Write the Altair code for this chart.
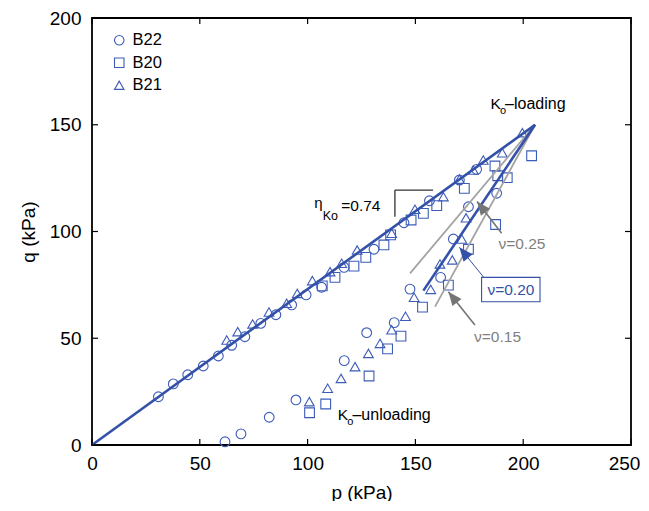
import math
import altair as alt
import pandas as pd

FONT = "Liberation Sans"
BLUE_MK = "#3d5cb8"
BLUE_LN = "#3451a8"
GRAY_LN = "#a3a3a3"
GRAY_AR = "#757575"
GRAY_TX = "#7f7f7f"

W, H = 539, 427

# ---- measured points (p, q in kPa) ----
b22_p = [30.8, 37.7, 44.4, 51.6, 58.6, 64.8, 70.9, 78.3, 85.3, 92.6, 99.3, 106.5, 116.9, 130.8,
         144.7, 156.5, 170.4, 178.4,
         61.7, 69.1, 82.2, 94.6, 117.0, 127.4, 140.2, 147.5, 161.7, 167.6, 174.6, 187.7]
b22_q = [22.6, 28.6, 32.9, 37.0, 41.7, 46.7, 50.7, 57.0, 61.0, 65.6, 70.3, 73.9, 83.2, 91.7,
         104.1, 114.4, 124.1, 129.1,
         1.5, 5.2, 13.0, 21.1, 39.5, 52.6, 57.3, 73.0, 78.5, 96.5, 111.6, 117.9]

b20_p = [106.8, 112.7, 121.5, 127.0, 135.4, 138.5, 148.0, 153.7, 159.9, 172.7, 186.9, 203.9,
         192.6, 188.2, 187.2, 174.6, 165.3, 153.3, 143.3, 137.1, 128.5, 108.4, 100.9]
b20_q = [74.5, 78.5, 83.8, 87.9, 93.7, 98.4, 105.4, 108.5, 112.1, 120.2, 130.7, 135.5,
         125.2, 126.1, 103.3, 91.7, 74.9, 64.6, 51.0, 45.0, 32.3, 19.2, 15.1]

b21_p = [62.5, 67.6, 74.5, 82.1, 90.3, 95.2, 102.2, 110.4, 115.8, 123.0, 139.0, 149.8, 163.0,
         170.4, 176.9, 181.5, 190.3, 199.6,
         100.8, 109.3, 115.5, 122.0, 128.2, 133.6, 139.0, 145.4, 149.4, 157.1, 161.4, 167.1,
         171.5, 173.5]
b21_q = [49.2, 53.1, 56.7, 62.3, 66.4, 71.0, 77.0, 81.2, 85.1, 91.3, 99.2, 110.4, 116.3,
         124.5, 128.8, 133.5, 136.9, 146.3,
         20.3, 26.6, 31.2, 36.7, 42.9, 47.6, 54.0, 60.3, 69.2, 72.9, 84.8, 86.7,
         96.5, 106.4]

series = ["B22", "B20", "B21"]
shapes = ["circle", "square", "triangle-up"]

x_ticks = [0, 50, 100, 150, 200, 250]
y_ticks = [0, 50, 100, 150, 200]

# Ko loading line and unloading lines (start / end)
load_line = {"p1": 0.0, "q1": 0.0, "p2": 205.5, "q2": 150.0}
nu_names = ["0.25", "0.20", "0.15"]
nu_end_p = [147.5, 153.7, 159.1]
nu_end_q = [80.4, 72.3, 64.8]

# arrows: tail -> tip
arrow_tail_p = [190.0, 182.3, 177.6]
arrow_tail_q = [99.2, 77.8, 56.2]
arrow_tip_p = [178.6, 170.4, 165.3]
arrow_tip_q = [114.1, 92.6, 71.8]

# ---- frames ----
pts = pd.DataFrame(
    [{"series": "B22", "p": p, "q": q} for p, q in zip(b22_p, b22_q)]
    + [{"series": "B20", "p": p, "q": q} for p, q in zip(b20_p, b20_q)]
    + [{"series": "B21", "p": p, "q": q} for p, q in zip(b21_p, b21_q)]
)

xs = alt.Scale(domain=[0, 250], nice=False, zero=False)
ys = alt.Scale(domain=[0, 200], nice=False, zero=False)

AX = alt.Axis(values=x_ticks, title="p (kPa)", ticks=False, domain=False,
              grid=False, labelFontSize=19, labelPadding=9, labelFlush=False,
              labelOffset={"condition": {"test": "datum.value == 250", "value": -7}, "value": 0},
              titleFontSize=19, titlePadding=10, labelFont=FONT,
              titleFont=FONT, titleFontWeight="normal",
              labelColor="black", titleColor="black")
AY = alt.Axis(values=y_ticks, title="q (kPa)", ticks=False, domain=False,
              grid=False, labelFontSize=19, labelPadding=11, labelFlush=False,
              titleFontSize=19, titlePadding=11, labelFont=FONT,
              titleFont=FONT, titleFontWeight="normal",
              labelColor="black", titleColor="black")

kx = W / 250.0
ky = H / 200.0

points = alt.Chart(pts).mark_point(filled=False, size=95, strokeWidth=1.1, color=BLUE_MK,
                                   opacity=1).encode(
    x=alt.X("p:Q", scale=xs, axis=AX),
    y=alt.Y("q:Q", scale=ys, axis=AY),
    shape=alt.Shape("series:N", scale=alt.Scale(domain=series, range=shapes),
                    legend=alt.Legend(title=None, orient="none", legendX=19, legendY=14,
                                      padding=0, symbolSize=90, symbolStrokeWidth=1.1,
                                      symbolStrokeColor=BLUE_MK, symbolFillColor="transparent",
                                      symbolOpacity=1,
                                      labelFontSize=16.5, labelFont=FONT, labelColor="black",
                                      labelOffset=5, rowPadding=5.5)),
)

def seg_chart(df, color, width):
    return alt.Chart(df).mark_rule(color=color, strokeWidth=width).encode(
        x=alt.X("p1:Q", scale=xs, axis=AX), y=alt.Y("q1:Q", scale=ys, axis=AY),
        x2="p2:Q", y2="q2:Q")

load_df = pd.DataFrame([load_line])
nu_df = pd.DataFrame({"nu": nu_names, "p1": [load_line["p2"]] * 3, "q1": [load_line["q2"]] * 3,
                      "p2": nu_end_p, "q2": nu_end_q})
gray_lines = seg_chart(nu_df[nu_df.nu != "0.20"], GRAY_LN, 1.8)
blue_nu = seg_chart(nu_df[nu_df.nu == "0.20"], BLUE_LN, 2.6)
load = seg_chart(load_df, BLUE_LN, 2.6)

# arrows
ang = []
for tp, tq, hp, hq in zip(arrow_tail_p, arrow_tail_q, arrow_tip_p, arrow_tip_q):
    dx = (hp - tp) * kx
    dy = -(hq - tq) * ky
    ang.append(math.degrees(math.atan2(dx, -dy)) % 360)
arr_df = pd.DataFrame({"nu": nu_names, "p1": arrow_tail_p, "q1": arrow_tail_q,
                       "p2": arrow_tip_p, "q2": arrow_tip_q, "ang": ang})
gray_arr = arr_df[arr_df.nu != "0.20"]
blue_arr = arr_df[arr_df.nu == "0.20"]
HEAD = "M0,0L-0.42,1L0.42,1Z"

arrow_lines = seg_chart(gray_arr, GRAY_AR, 1.6) + seg_chart(blue_arr, BLUE_LN, 1.0)

def heads(df, color):
    return alt.Chart(df).mark_point(shape=HEAD, filled=True, size=760, color=color,
                                    opacity=1, strokeWidth=0).encode(
        x=alt.X("p2:Q", scale=xs, axis=AX), y=alt.Y("q2:Q", scale=ys, axis=AY),
        angle=alt.Angle("ang:Q", scale=None))

heads_gray = heads(gray_arr, GRAY_AR)
heads_blue = heads(blue_arr, BLUE_LN)

# box around nu=0.20
box_df = pd.DataFrame([{"p1": 180.7, "q1": 67.1, "p2": 207.8, "q2": 78.5}])
box = alt.Chart(box_df).mark_rect(fill="white", stroke=BLUE_LN, strokeWidth=1.1).encode(
    x=alt.X("p1:Q", scale=xs, axis=AX), y=alt.Y("q1:Q", scale=ys, axis=AY),
    x2="p2:Q", y2="q2:Q")

# eta bracket
br_df = pd.DataFrame([{"p1": 140.5, "q1": 119.4, "p2": 158.2, "q2": 119.4},
                      {"p1": 140.5, "q1": 119.4, "p2": 140.5, "q2": 106.9}])
bracket = seg_chart(br_df, "#333333", 1.3)

# texts
texts = pd.DataFrame([
    {"t": "K", "p": 184.8, "q": 157.6, "s": 15.5, "c": "black", "a": "left"},
    {"t": "o", "p": 189.2, "q": 155.1, "s": 11, "c": "black", "a": "left"},
    {"t": "\u2013loading", "p": 191.6, "q": 157.6, "s": 16, "c": "black", "a": "left"},
    {"t": "K", "p": 114.0, "q": 11.7, "s": 15.5, "c": "black", "a": "left"},
    {"t": "o", "p": 118.4, "q": 9.2, "s": 11, "c": "black", "a": "left"},
    {"t": "\u2013unloading", "p": 120.8, "q": 11.7, "s": 16, "c": "black", "a": "left"},
    {"t": "\u03b7", "p": 103.1, "q": 111.0, "s": 15, "c": "black", "a": "left"},
    {"t": "Ko", "p": 107.0, "q": 105.6, "s": 12.5, "c": "black", "a": "left"},
    {"t": "=0.74", "p": 115.6, "q": 109.7, "s": 15.5, "c": "black", "a": "left"},
    {"t": "\u03bd=0.25", "p": 199.4, "q": 91.6, "s": 15.5, "c": GRAY_TX, "a": "center"},
    {"t": "\u03bd=0.20", "p": 194.3, "q": 70.2, "s": 15.5, "c": BLUE_LN, "a": "center"},
    {"t": "\u03bd=0.15", "p": 188.1, "q": 48.2, "s": 15.5, "c": GRAY_TX, "a": "center"},
])

def text_layer(df, align):
    return alt.Chart(df).mark_text(font=FONT, align=align, baseline="alphabetic").encode(
        x=alt.X("p:Q", scale=xs, axis=AX), y=alt.Y("q:Q", scale=ys, axis=AY),
        text="t:N", size=alt.Size("s:Q", scale=None, legend=None),
        color=alt.Color("c:N", scale=None, legend=None))

txt = text_layer(texts[texts.a == "left"], "left") + text_layer(texts[texts.a == "center"], "center")

# inward ticks on all sides
xt = pd.DataFrame({"t": x_ticks})
yt = pd.DataFrame({"t": y_ticks})
TL = 6
ticks = (
    alt.Chart(xt).mark_rule(color="black", strokeWidth=1.2).encode(
        x=alt.X("t:Q", scale=xs, axis=AX), y=alt.value(H), y2=alt.value(H - TL))
    + alt.Chart(xt).mark_rule(color="black", strokeWidth=1.2).encode(
        x=alt.X("t:Q", scale=xs, axis=AX), y=alt.value(0), y2=alt.value(TL))
    + alt.Chart(yt).mark_rule(color="black", strokeWidth=1.2).encode(
        y=alt.Y("t:Q", scale=ys, axis=AY), x=alt.value(0), x2=alt.value(TL))
    + alt.Chart(yt).mark_rule(color="black", strokeWidth=1.2).encode(
        y=alt.Y("t:Q", scale=ys, axis=AY), x=alt.value(W), x2=alt.value(W - TL))
)

chart = alt.layer(
    points, gray_lines, load, blue_nu, bracket, arrow_lines, heads_gray, heads_blue,
    box, txt, ticks
).properties(
    width=W, height=H,
    autosize=alt.AutoSizeParams(type="none"),
    padding={"left": 84, "top": 10, "right": 10, "bottom": 56},
    background="white",
).configure_view(stroke="black", strokeWidth=1.8)

chart.save("out.html", embed_options={"renderer": "svg", "actions": False})
